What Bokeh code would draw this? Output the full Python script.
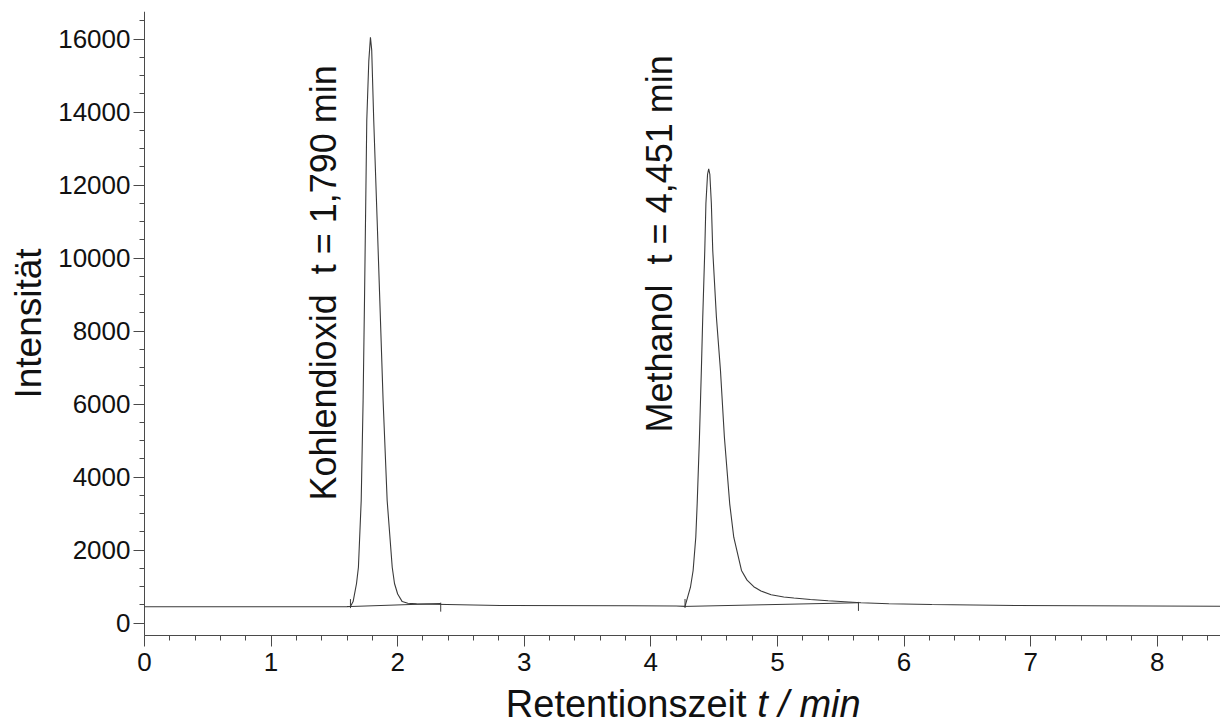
import math
from bokeh.plotting import figure
from bokeh.models import SingleIntervalTicker, Range1d
from bokeh.core.properties import value
from bokeh.embed import file_html
from bokeh.resources import INLINE

# --- data ---
time_min = [0.0, 1.0, 1.60, 1.627, 1.648, 1.675, 1.690, 1.712, 1.727, 1.738, 1.746, 1.756,
            1.772, 1.785, 1.795, 1.811, 1.838, 1.859, 1.885, 1.917, 1.957, 1.975, 2.00,
            2.036, 2.08, 2.15, 2.39, 2.81, 3.84, 4.20, 4.27, 4.313, 4.334, 4.355, 4.366,
            4.384, 4.399, 4.410, 4.426, 4.435, 4.448, 4.457, 4.466, 4.478, 4.489, 4.518,
            4.550, 4.581, 4.623, 4.655, 4.716, 4.76, 4.813, 4.87, 4.95, 5.05, 5.13, 5.26,
            5.40, 5.50, 5.66, 5.88, 6.22, 6.88, 8.5]
intensity = [450, 452, 455, 457, 592, 1088, 1534, 3362, 6101, 8841, 11033, 13773,
             15400, 16050, 15700, 13773, 11033, 8841, 6101, 3362, 1534, 1088, 800,
             592, 545, 530, 512, 485, 477, 470, 460, 986, 1444, 2356, 3271,
             5096, 6923, 8384, 10211, 11500, 12300, 12450, 12300, 11500, 10211, 8384,
             6923, 5096, 3271, 2356, 1444, 1180, 1000, 880, 780, 720, 690, 650,
             615, 594, 559, 531, 512, 485, 466]

# integration baselines (start/end of each peak)
base_t0 = [1.627, 4.27]
base_I0 = [457, 460]
base_t1 = [2.34, 5.64]
base_I1 = [540, 560]

peak_names = ["Kohlendioxid", "Methanol"]
peak_times = [1.790, 4.451]

x_ticks_interval = 1
y_ticks_interval = 2000

X_MAX = 8.5
Y_AXIS_BOTTOM = -337   # where the x axis crosses
Y_TOP = 16759
p = figure(width=1220, height=726, output_backend="svg", toolbar_location=None,
           x_range=Range1d(-1.1374, X_MAX), y_range=Range1d(-2830, Y_TOP),
           min_border_left=0, min_border_right=0, min_border_top=11, min_border_bottom=0)
p.outline_line_color = None
p.grid.visible = False
p.background_fill_color = "white"
p.border_fill_color = "white"

line_col = "#4a4a4a"
p.line(time_min, intensity, line_color="#3a3a3a", line_width=1.1)
p.segment(base_t0, base_I0, base_t1, base_I1, line_color="#3a3a3a", line_width=1)
p.scatter(base_t0, [v + 80 for v in base_I0], marker="dash", angle=math.pi / 2, size=9,
          line_color="#3a3a3a", line_width=1)
p.scatter(base_t1, [v - 100 for v in base_I1], marker="dash", angle=math.pi / 2, size=9,
          line_color="#3a3a3a", line_width=1)

# axes
for ax in (p.xaxis[0], p.yaxis[0]):
    ax.axis_line_color = line_col
    ax.major_tick_line_color = line_col
    ax.minor_tick_line_color = line_col
    ax.major_tick_in = 0
    ax.minor_tick_in = 0
    ax.major_tick_out = 11
    ax.minor_tick_out = 5
    ax.major_label_text_font = "Liberation Sans"
    ax.major_label_text_font_size = "26px"
    ax.major_label_text_color = "#111111"

p.xaxis.ticker = SingleIntervalTicker(interval=x_ticks_interval, num_minor_ticks=5)
p.yaxis.ticker = SingleIntervalTicker(interval=y_ticks_interval, num_minor_ticks=4)
p.xaxis.fixed_location = Y_AXIS_BOTTOM
p.yaxis.fixed_location = 0
p.yaxis.bounds = (Y_AXIS_BOTTOM, Y_TOP)
p.xaxis.bounds = (0, X_MAX)
p.xaxis.major_label_standoff = 6
p.yaxis.major_label_standoff = 3

p.yaxis.axis_label = "Intensität"
p.yaxis.axis_label_text_font = "Liberation Sans"
p.yaxis.axis_label_text_font_size = "37px"
p.yaxis.axis_label_text_font_style = "normal"
p.yaxis.axis_label_text_color = "#111111"
p.yaxis.axis_label_standoff = 6

# x axis title with italic part, drawn below the axis
title_y = -2200
split_x = 4.84
p.text(x=[split_x], y=[title_y], text=["Retentionszeit\u00a0"], text_align="right",
       text_baseline="middle", text_font=value("Liberation Sans"), text_font_size="38px",
       text_color="#111111")
p.text(x=[split_x], y=[title_y], text=["t / min"], text_align="left",
       text_baseline="middle", text_font=value("Liberation Sans"), text_font_size="38px",
       text_font_style="italic", text_color="#111111")

# peak annotations (rotated)
label_texts = [f"{n}\u00a0\u00a0t = {t:.3f} min".replace(".", ",") for n, t in zip(peak_names, peak_times)]
p.text(x=[1.414, 4.068], y=[3362, 5225], text=label_texts, angle=math.pi / 2,
       text_align="left", text_baseline="middle", text_font=value("Liberation Sans"),
       text_font_size="36px", text_color="#111111")

open("out.html", "w").write(file_html(p, INLINE))
